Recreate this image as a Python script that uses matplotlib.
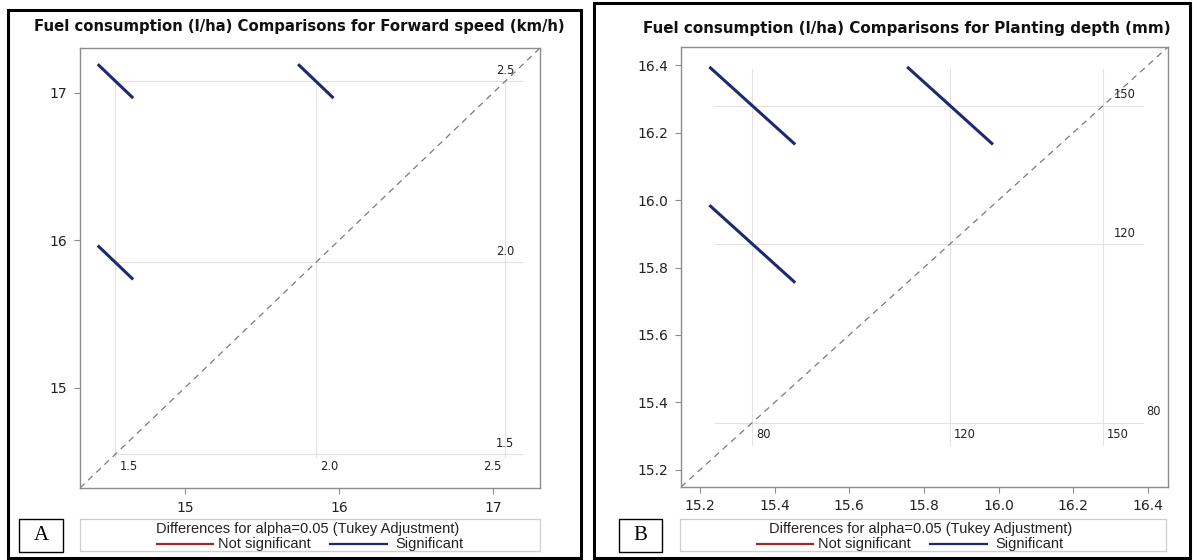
import matplotlib
matplotlib.use("Agg")
import matplotlib.pyplot as plt
from matplotlib.patches import Rectangle

# LS-mean fuel consumption (l/ha) per factor level
speed_levels = ["1.5", "2.0", "2.5"]
speed_means = [14.55, 15.85, 17.08]
depth_levels = ["80", "120", "150"]
depth_means = [15.34, 15.87, 16.28]
# Tukey-adjusted CI half-width of a pairwise difference
speed_ci_half = 0.23
depth_ci_half = 0.23

speed_ticks = [15, 16, 17]
depth_ticks = [15.2, 15.4, 15.6, 15.8, 16.0, 16.2, 16.4]

W, H = 1193, 560
SIG = "#1f2a6e"
NOSIG = "#9b2a2a"
GRID = "#e2e2e2"
SPINE = "#8c8c8c"


def fbox(x0, y0, x1, y1):
    # pixel box (top-left origin) -> figure fraction [l, b, w, h]
    return [x0 / W, 1 - y1 / H, (x1 - x0) / W, (y1 - y0) / H]


def diffogram(ax, levels, means, ci_half, lims, ticks, fmt, ext,
              side_dx, side_ha, bottom_dx, bottom_ha):
    lo, hi = lims
    mn, mx = min(means), max(means)
    # reference lines at each mean
    for m in means:
        ax.plot([m, m], [mn - ext["bottom"], mx + ext["top"]], color=GRID, lw=0.8, zorder=1)
        ax.plot([mn - ext["left"], mx + ext["right"]], [m, m], color=GRID, lw=0.8, zorder=1)
    # diagonal y = x
    ax.plot([lo, hi], [lo, hi], color="#7a7a7a", lw=0.9, dashes=(5, 4), zorder=2)
    # one segment per pair, slope -1, centred on (mean_i, mean_j)
    h = ci_half / 2
    for i in range(len(means)):
        for j in range(i + 1, len(means)):
            x, y = means[i], means[j]
            sig = abs(y - x) > ci_half
            ax.plot([x - h, x + h], [y + h, y - h], color=SIG if sig else NOSIG,
                    lw=2.2, solid_capstyle="butt", zorder=3)
    # level labels
    for k, (lab, m) in enumerate(zip(levels, means)):
        ax.annotate(lab, (mx, m), xytext=(side_dx[k] * 0.72, 3), textcoords="offset points",
                    ha=side_ha, va="bottom", fontsize=8.3, color="#222222")
        ax.annotate(lab, (m, mn), xytext=(bottom_dx[k] * 0.72, -4), textcoords="offset points",
                    ha=bottom_ha[k], va="top", fontsize=8.3, color="#222222")
    ax.set_xlim(lo, hi)
    ax.set_ylim(lo, hi)
    ax.set_xticks(ticks)
    ax.set_yticks(ticks)
    ax.set_xticklabels([fmt.format(t) for t in ticks])
    ax.set_yticklabels([fmt.format(t) for t in ticks])
    ax.tick_params(direction="out", length=4, width=0.8, color=SPINE,
                   labelsize=10, labelcolor="#222222", pad=5)
    for s in ax.spines.values():
        s.set_color(SPINE)
        s.set_linewidth(1.0)


def legend_box(fig, box):
    lax = fig.add_axes(fbox(*box))
    lax.set_xlim(0, box[2] - box[0])
    lax.set_ylim(box[3] - box[1], 0)
    lax.set_xticks([])
    lax.set_yticks([])
    for s in lax.spines.values():
        s.set_color("#cfcfcf")
        s.set_linewidth(0.9)
    cx = (box[2] - box[0]) / 2
    kw = dict(va="center", fontsize=10.5, color="#222222", family="Liberation Sans")
    lax.text(cx - 2, 10, "Differences for alpha=0.05 (Tukey Adjustment)", ha="center", **kw)
    lax.plot([77, 133], [25, 25], color=NOSIG, lw=1.6)
    lax.text(138, 25, "Not significant", ha="left", **kw)
    lax.plot([250, 307], [25, 25], color=SIG, lw=1.6)
    lax.text(315, 25, "Significant", ha="left", **kw)


def tag_box(fig, box, letter):
    x0, y0, x1, y1 = box
    fig.patches.append(Rectangle((x0 / W, 1 - y1 / H), (x1 - x0) / W, (y1 - y0) / H,
                                 fill=False, ec="black", lw=1.0, transform=fig.transFigure))
    fig.text((x0 + x1) / 2 / W, 1 - (y0 + y1) / 2 / H, letter, ha="center", va="center",
             fontsize=15, family="Liberation Serif", color="black")


fig = plt.figure(figsize=(W / 100, H / 100), dpi=100)
fig.patch.set_facecolor("white")

# panel frames
for x0, y0, x1, y1 in [(8, 10, 581, 558), (594, 3, 1190, 558)]:
    fig.patches.append(Rectangle((x0 / W, 1 - y1 / H), (x1 - x0) / W, (y1 - y0) / H,
                                 fill=False, ec="black", lw=2.2, transform=fig.transFigure))

# A: forward speed
ax1 = fig.add_axes(fbox(80, 48, 540, 488))
diffogram(ax1, speed_levels, speed_means, speed_ci_half, (14.32, 17.305), speed_ticks, "{:.0f}",
          ext=dict(left=0.0, right=0.11, bottom=0.02, top=0.0),
          side_dx=[0, 0, 0], side_ha="center",
          bottom_dx=[4, 4, -4], bottom_ha=["left", "left", "right"])
fig.text(299 / W, 1 - 26 / H, "Fuel consumption (l/ha) Comparisons for Forward speed (km/h)",
         ha="center", va="center", fontsize=10.7, fontweight="bold", color="#111111")
legend_box(fig, (80, 519, 540, 551))
tag_box(fig, (19, 519, 63, 552), "A")

# B: planting depth
ax2 = fig.add_axes(fbox(681, 47, 1168, 487))
diffogram(ax2, depth_levels, depth_means, depth_ci_half, (15.149, 16.454), depth_ticks, "{:.1f}",
          ext=dict(left=0.1, right=0.107, bottom=0.065, top=0.11),
          side_dx=[43, 11, 11], side_ha="left",
          bottom_dx=[4, 4, 4], bottom_ha=["left", "left", "left"])
fig.text(907 / W, 1 - 28 / H, "Fuel consumption (l/ha) Comparisons for Planting depth (mm)",
         ha="center", va="center", fontsize=10.9, fontweight="bold", color="#111111")
legend_box(fig, (680, 519, 1166, 551))
tag_box(fig, (619, 519, 662, 552), "B")

fig.savefig("out.png", dpi=100, facecolor="white")
